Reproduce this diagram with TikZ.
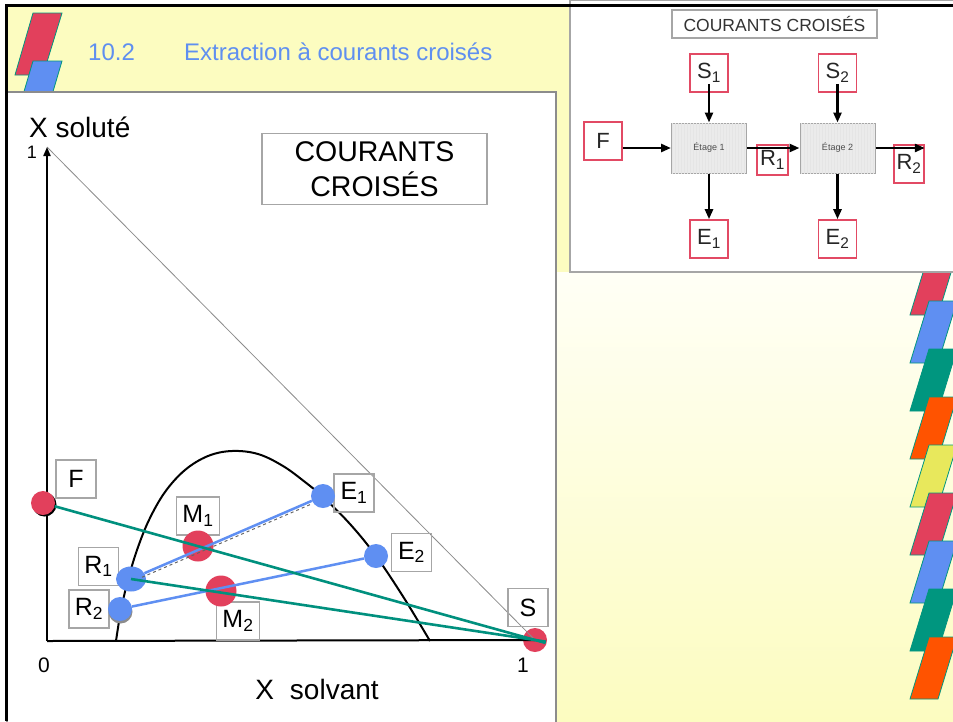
\documentclass[tikz,border=0pt]{standalone}
\usepackage{fontspec}
\setmainfont{Liberation Sans}
\usetikzlibrary{arrows.meta,shapes.geometric,shadows,patterns}
\definecolor{slideyellow}{HTML}{FCFCC0}
\definecolor{paleyellow}{HTML}{FFFFF6}
\definecolor{titleblue}{HTML}{5F8FF0}
\definecolor{ptred}{HTML}{E2405C}
\definecolor{ptblue}{HTML}{5F8FF2}
\definecolor{mixgreen}{HTML}{00907E}
\definecolor{flagteal}{HTML}{00967F}
\definecolor{flagorange}{HTML}{FF5300}
\definecolor{flagyellow}{HTML}{E8E85C}
\definecolor{boxred}{HTML}{E24A64}
\tikzset{
  >={Triangle[length=10pt,width=8pt]},
  logoflag/.style={draw=flagteal,line width=0.8pt,fill=#1},
  tag/.style={draw=black!35,line width=1.3pt,minimum width=40pt,minimum height=38pt,
    inner xsep=6pt,inner ysep=0pt,font=\fontsize{25}{25}\selectfont},
  flowtag/.style={draw=boxred,line width=1.6pt,fill=white,minimum size=38pt,inner sep=0pt,
    font=\fontsize{22}{22}\selectfont,text=black!85},
  stage/.style={draw=black!35,line width=1pt,fill=black!8,minimum width=75pt,minimum height=50pt,
    inner sep=0pt,font=\fontsize{9}{9}\selectfont,text=black!70,
    postaction={pattern=vertical lines,pattern color=black!10}},
  flow/.style={->,line width=2.5pt},
  reddot/.style={circle,fill=ptred,inner sep=0pt,minimum size=#1},
  bluedot/.style={circle,fill=ptblue,inner sep=0pt,minimum size=#1},
  tieline/.style={ptblue,line width=2.5pt},
  mixline/.style={mixgreen,line width=2.6pt},
}

\begin{document}
\begin{tikzpicture}[x=1pt,y=-1pt,inner sep=0pt]
  \useasboundingbox (0,0) rectangle (953,721);
  \clip (0,0) rectangle (953,721);
  \fill[white] (0,0) rectangle (953,721);
  \fill[slideyellow] (6,5) rectangle (953,721);
  \shade[top color=paleyellow,bottom color=slideyellow] (556,272) rectangle (953,721);

  \draw[logoflag=ptred]  (33,13) -- (62,13) -- (43,75) -- (15,75) -- cycle;
  \draw[logoflag=ptblue] (33,61) -- (62,61) -- (52,95) -- (23,95) -- cycle;
  \node[anchor=base west,text=titleblue,font=\fontsize{24}{24}\selectfont] (secnum)   at (88,60)  {10.2};
  \node[anchor=base west,text=titleblue,font=\fontsize{24}{24}\selectfont] (sectitle) at (184,60) {Extraction à courants croisés};

  \draw[logoflag=ptred]       (910,315) -- (938,315) -- (957,253) -- (929,253) -- cycle;
  \draw[logoflag=ptblue]      (910,363) -- (938,363) -- (957,301) -- (929,301) -- cycle;
  \draw[logoflag=flagteal]    (910,411) -- (938,411) -- (957,349) -- (929,349) -- cycle;
  \draw[logoflag=flagorange]  (910,459) -- (938,459) -- (957,397) -- (929,397) -- cycle;
  \draw[logoflag=flagyellow]  (910,507) -- (938,507) -- (957,445) -- (929,445) -- cycle;
  \draw[logoflag=ptred]       (910,555) -- (938,555) -- (957,493) -- (929,493) -- cycle;
  \draw[logoflag=ptblue]      (910,603) -- (938,603) -- (957,541) -- (929,541) -- cycle;
  \draw[logoflag=flagteal]    (910,651) -- (938,651) -- (957,589) -- (929,589) -- cycle;
  \draw[logoflag=flagorange]  (910,699) -- (938,699) -- (957,637) -- (929,637) -- cycle;

  % inset: flow sheet
  \draw[black!35,fill=white,line width=1.2pt] (570,0) rectangle (960,272);
  \node[draw=black!35,line width=1.2pt,minimum width=205pt,minimum height=28pt,
        font=\fontsize{17.5}{17.5}\selectfont,text=black!80] (fstitle) at (774.5,24) {COURANTS CROISÉS};
  \node[stage]   (et1) at (709,148)   {Étage 1};
  \node[stage]   (et2) at (837.5,148) {Étage 2};
  \node[flowtag] (fS1) at (709,73)    {S\textsubscript{1}};
  \node[flowtag] (fS2) at (837.5,73)  {S\textsubscript{2}};
  \node[flowtag] (fF)  at (603,141)   {F};
  \node[flowtag] (fE1) at (709,239)   {E\textsubscript{1}};
  \node[flowtag] (fE2) at (837.5,239) {E\textsubscript{2}};
  \node[flowtag,minimum width=31pt,minimum height=30pt] (fR1) at (772.5,160) {R\textsubscript{1}};
  \node[flowtag,minimum width=30pt,minimum height=38pt] (fR2) at (909,164) {R\textsubscript{2}};
  \draw[flow] ([yshift=9pt]fS1.south) -- (et1.north);
  \draw[flow] ([yshift=9pt]fS2.south) -- (et2.north);
  \draw[flow] (fF.east |- et1.west) -- (et1.west);
  \draw[flow] (et1.east) -- (et2.west);
  \draw[flow] (et2.east) -- (et2.east -| fR2.north east);
  \draw[flow] (et1.south) -- (fE1.north);
  \draw[flow] (et2.south) -- (fE2.north);

  % ternary diagram
  \draw[black!45,fill=white,line width=1.2pt] (7,92) rectangle (556,730);
  \coordinate (O)   at (47,641);
  \coordinate (top) at (47,147);
  \node[reddot=24pt] (S) at (535,640) {};
  \draw[black!45,line width=0.8pt] (top) -- (S.center);
  \draw[line width=2pt,-{Triangle[length=9pt,width=7pt]}] (O) -- (top);
  \draw[line width=2pt] (O) -- (S.center);
  \draw[line width=2pt] plot[smooth,tension=0.6] coordinates {(116,641) (121,610) (128,580) (137,550)
    (149,520) (165,492) (185,470) (208,456) (232,451) (258,454) (283,466) (305,482) (323,497)
    (350,524) (376,556) (404,598) (430,641)};
  \node[anchor=base west,font=\fontsize{28}{28}\selectfont] (ylab) at (29,137) {X soluté};
  \node[font=\fontsize{18}{18}\selectfont] (yone)  at (32,152)  {1};
  \node[font=\fontsize{21}{21}\selectfont] (xzero) at (44,665)  {0};
  \node[font=\fontsize{21}{21}\selectfont] (xone)  at (523,665) {1};
  \node[font=\fontsize{28}{28}\selectfont] (xlab)  at (317,689) {X\hspace{16pt}solvant};
  \node[draw=black!35,line width=1.3pt,minimum width=225pt,minimum height=71pt,align=center,
        font=\fontsize{28.5}{35}\selectfont] (plottitle) at (374.5,169) {COURANTS\\CROISÉS};

  \node[tag] (tF)  at (76,479)    {F};
  \node[tag] (tM1) at (198,516)   {M\textsubscript{1}};
  \node[tag] (tE1) at (354,493)   {E\textsubscript{1}};
  \node[tag] (tE2) at (411.5,552.5) {E\textsubscript{2}};
  \node[tag] (tR1) at (98.5,566.5)  {R\textsubscript{1}};
  \node[tag] (tR2) at (89,609)    {R\textsubscript{2}};
  \node[tag] (tM2) at (238,621)   {M\textsubscript{2}};
  \node[tag] (tS)  at (528,607.5) {S};

  \node[reddot=31pt] (M1) at (198,546) {};
  \node[reddot=31pt] (M2) at (221,591) {};
  \node[reddot=24pt,drop shadow={shadow xshift=1.5pt,shadow yshift=-1.5pt,fill=black,opacity=1}] (F) at (43,503) {};
  \node[bluedot=24pt] (E1) at (323,496) {};
  \node[bluedot=24pt] (E2) at (376,556) {};
  \node[ellipse,fill=ptblue,minimum width=30pt,minimum height=25pt] (R1) at (131,579) {};
  \node[bluedot=24pt,drop shadow={shadow xshift=0.5pt,shadow yshift=-2.5pt,fill=black!45,opacity=1}] (R2) at (120,609) {};

  \draw[black!60,dashed,line width=1pt,shorten <=12pt,shorten >=12pt] ([yshift=-3pt]R1.center) -- ([yshift=-3pt]E1.center);
  \draw[tieline] (R1) -- (E1);
  \draw[tieline] (R2) -- (E2);
  \draw[mixline,shorten >=-11pt] (F) -- (S.center);
  \draw[mixline,shorten >=-11pt] (R1.center) -- (S.center);

  \draw[line width=3pt] (6,721) -- (6,5) -- (953,5);
\end{tikzpicture}
\end{document}
